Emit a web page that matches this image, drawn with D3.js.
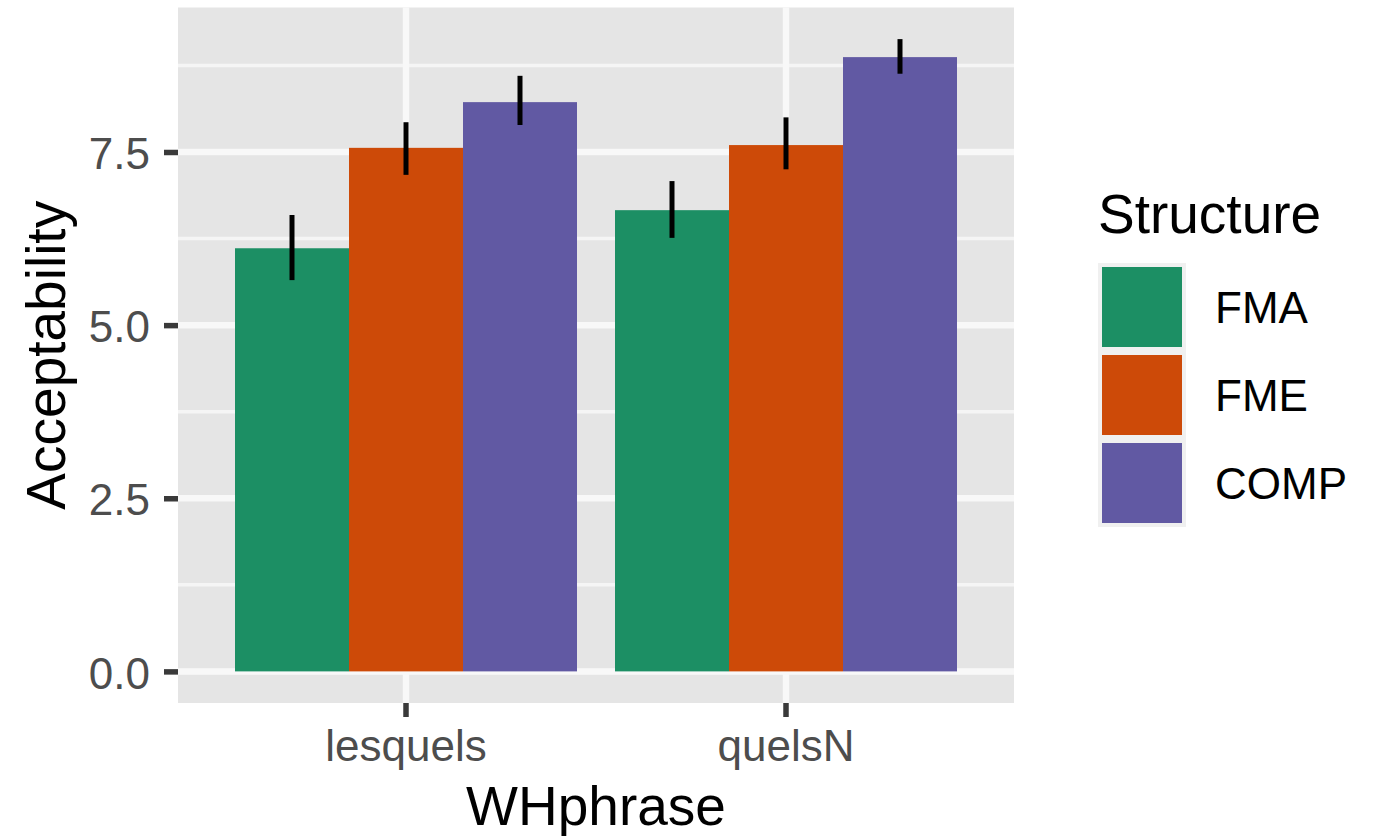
<!DOCTYPE html>
<html>
<head>
<meta charset="utf-8">
<script src="https://cdn.jsdelivr.net/npm/d3@7"></script>
<style>
  html, body { margin: 0; padding: 0; background: #ffffff; }
  svg { display: block; }
  text { font-family: "Liberation Sans", Arial, Helvetica, sans-serif; }
</style>
</head>
<body>
<svg id="chart" width="1374" height="836"></svg>
<script>
// ---- data ----
const categories = ["lesquels", "quelsN"];
const structures = ["FMA", "FME", "COMP"];
const structureColors = ["#1C8F64", "#CD4A08", "#6159A3"];

const fmaMean = [6.11, 6.66];
const fmaLow  = [5.65, 6.26];
const fmaHigh = [6.59, 7.08];

const fmeMean = [7.56, 7.60];
const fmeLow  = [7.17, 7.25];
const fmeHigh = [7.93, 8.00];

const compMean = [8.22, 8.87];
const compLow  = [7.89, 8.63];
const compHigh = [8.60, 9.13];

const yTicks = [0, 2.5, 5, 7.5];
const yMinorTicks = [1.25, 3.75, 6.25, 8.75];

const xTitle = "WHphrase";
const yTitle = "Acceptability";
const legendTitle = "Structure";

// build table
const seriesMeans = [fmaMean, fmeMean, compMean];
const seriesLows = [fmaLow, fmeLow, compLow];
const seriesHighs = [fmaHigh, fmeHigh, compHigh];
const rows = [];
categories.forEach((c, ci) => {
  structures.forEach((s, si) => {
    rows.push({ cat: c, struct: s, mean: seriesMeans[si][ci], low: seriesLows[si][ci], high: seriesHighs[si][ci] });
  });
});

// ---- layout ----
const panel = { left: 178, right: 1014, top: 7.5, bottom: 703 };
const svg = d3.select("#chart");

const yMax = d3.max(rows, d => d.high);
const pad = yMax * 0.05;
const y = d3.scaleLinear().domain([0 - pad, yMax + pad]).range([panel.bottom, panel.top]);

const x = d3.scaleBand().domain(categories).range([panel.left, panel.right])
  .paddingInner(0.1).paddingOuter(0.15);
const xInner = d3.scaleBand().domain(structures).range([0, x.bandwidth()]);
const color = d3.scaleOrdinal().domain(structures).range(structureColors);

// panel background
svg.append("rect")
  .attr("x", panel.left).attr("y", panel.top)
  .attr("width", panel.right - panel.left).attr("height", panel.bottom - panel.top)
  .attr("fill", "#E5E5E5");

// minor grid
svg.append("g").selectAll("line").data(yMinorTicks).join("line")
  .attr("x1", panel.left).attr("x2", panel.right)
  .attr("y1", d => y(d)).attr("y2", d => y(d))
  .attr("stroke", "#F5F5F5").attr("stroke-width", 3.5);

// major grid
svg.append("g").selectAll("line").data(yTicks).join("line")
  .attr("x1", panel.left).attr("x2", panel.right)
  .attr("y1", d => y(d)).attr("y2", d => y(d))
  .attr("stroke", "#F8F8F8").attr("stroke-width", 6.5);
svg.append("g").selectAll("line").data(categories).join("line")
  .attr("y1", panel.top).attr("y2", panel.bottom)
  .attr("x1", d => x(d) + x.bandwidth() / 2).attr("x2", d => x(d) + x.bandwidth() / 2)
  .attr("stroke", "#F8F8F8").attr("stroke-width", 6.5);

// bars
svg.append("g").selectAll("rect").data(rows).join("rect")
  .attr("x", d => x(d.cat) + xInner(d.struct))
  .attr("width", xInner.bandwidth())
  .attr("y", d => y(d.mean))
  .attr("height", d => y(0) - y(d.mean))
  .attr("fill", d => color(d.struct));

// error bars
svg.append("g").selectAll("line").data(rows).join("line")
  .attr("x1", d => x(d.cat) + xInner(d.struct) + xInner.bandwidth() / 2)
  .attr("x2", d => x(d.cat) + xInner(d.struct) + xInner.bandwidth() / 2)
  .attr("y1", d => y(d.low)).attr("y2", d => y(d.high))
  .attr("stroke", "#000").attr("stroke-width", 5);

// y axis
const yAxis = svg.append("g")
  .attr("transform", `translate(${panel.left},0)`)
  .call(d3.axisLeft(y).tickValues(yTicks).tickFormat(d3.format(".1f")).tickSize(14).tickPadding(14));
yAxis.select(".domain").remove();
yAxis.selectAll(".tick line").attr("stroke", "#3a3a3a").attr("stroke-width", 5.5);
yAxis.selectAll(".tick text")
  .attr("fill", "#4D4D4D").attr("font-size", 44).attr("dy", "0.38em")
  .style("font-family", "'Liberation Sans', Arial, sans-serif");

// x axis
const xAxis = svg.append("g")
  .attr("transform", `translate(0,${panel.bottom})`)
  .call(d3.axisBottom(x).tickSize(14).tickPadding(13));
xAxis.select(".domain").remove();
xAxis.selectAll(".tick line").attr("stroke", "#3a3a3a").attr("stroke-width", 5.5);
xAxis.selectAll(".tick text")
  .attr("fill", "#4D4D4D").attr("font-size", 44)
  .style("font-family", "'Liberation Sans', Arial, sans-serif");

// axis titles
svg.append("text")
  .attr("x", (panel.left + panel.right) / 2).attr("y", 825)
  .attr("text-anchor", "middle").attr("font-size", 55).attr("fill", "#000")
  .text(xTitle);
svg.append("text")
  .attr("transform", `translate(65,${(panel.top + panel.bottom) / 2}) rotate(-90)`)
  .attr("text-anchor", "middle").attr("font-size", 55).attr("fill", "#000")
  .text(yTitle);

// legend
const legend = svg.append("g");
legend.append("text")
  .attr("x", 1098).attr("y", 233)
  .attr("font-size", 55).attr("fill", "#000")
  .text(legendTitle);
const keySize = 88, keyTop = 263;
const keys = legend.selectAll("g.key").data(structures).join("g")
  .attr("class", "key")
  .attr("transform", (d, i) => `translate(1098,${keyTop + i * keySize})`);
keys.append("rect")
  .attr("width", keySize).attr("height", keySize).attr("fill", "#F0F0F0");
keys.append("rect")
  .attr("x", 4).attr("y", 4).attr("width", keySize - 8).attr("height", keySize - 8)
  .attr("fill", d => color(d));
keys.append("text")
  .attr("x", 117).attr("y", keySize / 2 + 16)
  .attr("font-size", 44).attr("fill", "#000")
  .text(d => d);
</script>
</body>
</html>
